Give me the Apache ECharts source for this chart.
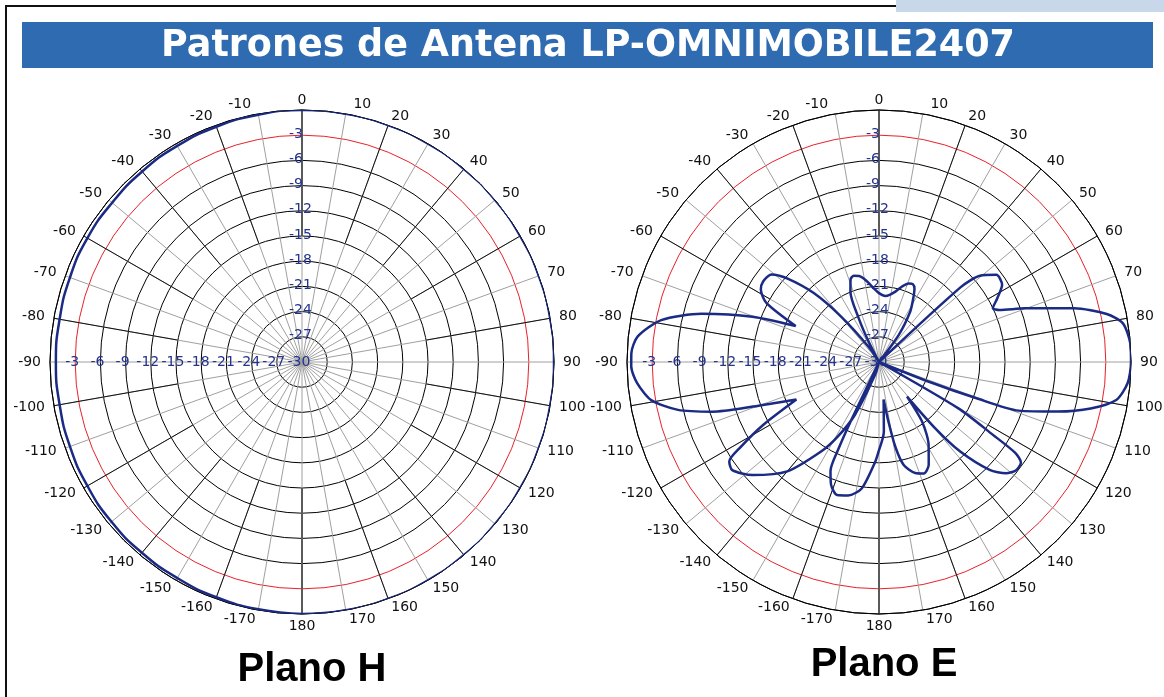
<!DOCTYPE html>
<html><head><meta charset="utf-8">
<script src="https://cdn.jsdelivr.net/npm/echarts@6/dist/echarts.min.js"></script>
<style>html,body{margin:0;padding:0;background:#fff}#c{width:1164px;height:697px}</style>
</head><body><div id="c"></div>
<script>
// ---------- data ----------
const titleText = 'Patrones de Antena LP-OMNIMOBILE2407';
const planeNames = ['Plano H', 'Plano E'];
const vLabelValues = [-3, -6, -9, -12, -15, -18, -21, -24, -27];
const hLabelValues = [-3, -6, -9, -12, -15, -18, -21, -24, -27, -30];

// H plane (angle in degrees, gain in dB)
const hAngles = [-180, -170, -160, -150, -140, -130, -120, -110, -100, -90,
                 -80, -70, -60, -50, -40, -30, -20, -10, 0,
                 10, 20, 30, 40, 50, 60, 70, 80, 90,
                 100, 110, 120, 130, 140, 150, 160, 170, 180];
const hGain = [0, -0.1, -0.2, -0.3, -0.35, -0.4, -0.5, -0.6, -0.7, -0.7,
               -0.7, -0.6, -0.5, -0.5, -0.4, -0.3, -0.2, -0.1, 0,
               0, 0, 0, 0, 0, 0, 0, 0, 0,
               0, 0, 0, 0, 0, 0, 0, 0, 0];

// E plane (angle in degrees, gain in dB), in drawing order
const eAngles = [-180, -177.8, -172.2, -167, -162.5, -158.7, -156, -155, -154.5, -156,
                 -163, -155.5, -151, -147.1, -140, -131.8, -126.4, -123.6, -121.7, -118.5,
                 -114.4, -109.5, -106.6, -103.4, -99.5, -95, -91, -88, -84, -79.1,
                 -74.8, -70.3, -66.7, -62.4, -58.5, -55.3, -50.8, -47.7, -43.4, -39.8,
                 -34.5, -31, -27, -24.9, -22.2, -19, -16.3, -13, -10.4, -7,
                 -4.1, 0, 5.4, 9, 13.1, 17, 20.7, 23.5, 25.8, 28.5,
                 31.9, 36.1, 42, 47.5, 49.5, 53.4, 57.9, 61.7, 64.7, 66.6,
                 69.8, 74.6, 78.1, 81, 85.8, 90, 94.9, 99.1, 102.4, 105.5,
                 109.2, 110.4, 111.6, 115, 120.3, 122.6, 123.7, 125.3, 128.3, 131.2,
                 134.3, 137.8, 139.7, 141, 144.2, 149.1, 154.2, 158.1, 161.9, 166.5,
                 169, 171, 173, 176, 180];
const eGain = [-19.5, -18.1, -14.8, -13.7, -13.4, -14.3, -15.8, -18.5, -22, -30,
               -28.4, -23.1, -19.8, -17.3, -13.0, -9.8, -8.3, -8.6, -10.5, -14.3,
               -19.2, -14.1, -9.3, -5.4, -2.5, -1.1, -0.5, -0.5, -1.1, -3.6,
               -8.1, -14.0, -19.2, -14.9, -13.5, -13.2, -13.5, -15.2, -18.7, -23.0,
               -27.8, -30, -27.3, -24.3, -21.0, -19.6, -19.3, -19.5, -19.9, -20.6,
               -21.2, -21.8, -22.1, -21.9, -21.4, -20.6, -20.0, -19.9, -20.3, -21.5,
               -23.0, -26.0, -30, -16.8, -14.2, -12.6, -12.7, -14.0, -15.0, -14.4,
               -11.5, -5.9, -2.3, -0.6, 0, 0, -0.3, -1.4, -4.2, -7.9,
               -12.4, -17.6, -23.6, -30, -19.0, -13.9, -10.5, -9.3, -9.2, -9.9,
               -11.6, -15.6, -19.6, -24.7, -21.2, -18.5, -16.4, -15.7, -16.1, -17.4,
               -19.6, -22.8, -25.5, -21.7, -19.5];

// ---------- chart ----------
const chart = echarts.init(document.getElementById('c'), null, {renderer: 'canvas'});
const FONT = 'DejaVu Sans';
const centers = [[302, 362], [879, 362]];
const R = 252;
const NAVY = '#1b2a84';
const LABEL_BLUE = '#24338c';
const ringColors = ['#000', '#000', '#000', '#000', '#000', '#000', '#000', '#000', '#000', '#e8212b', '#000'];
const toAxisAngle = a => (a + 360) % 360;
const angleLabelText = v => String(v > 180 ? v - 360 : v);
const baseLbl = {fontSize: 14, fontFamily: FONT, color: '#111', lineHeight: 1};

const polar = [], angleAxis = [], radiusAxis = [], series = [];
centers.forEach((c, k) => {
  const base = 3 * k;
  // main grid
  polar.push({center: c, radius: R});
  angleAxis.push({
    polarIndex: base, type: 'value', min: 0, max: 360, interval: 10, startAngle: 90, clockwise: true,
    axisLine: {show: true, lineStyle: {color: '#000', width: 1}},
    axisTick: {show: false},
    axisLabel: {show: true, margin: 9, color: '#111', fontSize: 14, fontFamily: FONT, lineHeight: 1,
      rich: {
        l: Object.assign({padding: [0, 34, 0, 0]}, baseLbl),
        r: Object.assign({padding: [0, 0, 0, 30]}, baseLbl),
        b: Object.assign({padding: [6, 0, 0, 0]}, baseLbl)
      },
      formatter: v => {
        if (v >= 360) return '';
        const t = angleLabelText(v);
        if (v === 350 || v === 190) return '{l|' + t + '}';
        if (v === 10 || v === 170) return '{r|' + t + '}';
        if (v === 180) return '{b|' + t + '}';
        return t;
      }},
    splitLine: {show: true, lineStyle: {color: '#a0a0a0', width: 1}}
  });
  radiusAxis.push({
    polarIndex: base, type: 'value', min: -30, max: 0, interval: 3,
    axisLine: {show: false}, axisTick: {show: false}, axisLabel: {show: false},
    splitLine: {show: true, lineStyle: {color: ringColors, width: 1}}
  });
  // black spokes on outer half
  polar.push({center: c, radius: [R / 2, R]});
  angleAxis.push({
    polarIndex: base + 1, type: 'value', min: 0, max: 360, interval: 20, startAngle: 90, clockwise: true,
    axisLine: {show: false}, axisTick: {show: false}, axisLabel: {show: false},
    splitLine: {show: true, lineStyle: {color: '#111', width: 1}}
  });
  radiusAxis.push({polarIndex: base + 1, type: 'value', min: -15, max: 0, show: false});
  // 0 / 180 spokes
  polar.push({center: c, radius: [R / 2, R]});
  angleAxis.push({
    polarIndex: base + 2, type: 'value', min: 0, max: 360, interval: 180, startAngle: 90, clockwise: true,
    axisLine: {show: false}, axisTick: {show: false}, axisLabel: {show: false},
    splitLine: {show: true, lineStyle: {color: '#5a5a5a', width: 2}}
  });
  radiusAxis.push({polarIndex: base + 2, type: 'value', min: -15, max: 0, show: false});

  const labelStyle = {color: LABEL_BLUE, fontSize: 14, fontFamily: FONT,
    textBorderWidth: 0, textBorderColor: 'transparent', opacity: 1};
  // radial labels (vertical, along 0 deg)
  series.push({
    type: 'scatter', coordinateSystem: 'polar', polarIndex: base, silent: true, symbolSize: 1,
    itemStyle: {color: 'rgba(0,0,0,0)'}, z: 6,
    data: vLabelValues.map(v => [v, 0]),
    label: Object.assign({show: true, position: 'inside', align: 'left', verticalAlign: 'middle', offset: [-13, -1],
      formatter: p => String(p.value[0])}, labelStyle)
  });
  // radial labels (horizontal, along -90 deg)
  series.push({
    type: 'scatter', coordinateSystem: 'polar', polarIndex: base, silent: true, symbolSize: 1,
    itemStyle: {color: 'rgba(0,0,0,0)'}, z: 6,
    data: hLabelValues.map(v => [v, 270]),
    label: Object.assign({show: true, position: 'inside', align: 'center', verticalAlign: 'middle', offset: [-3, 0],
      formatter: p => String(p.value[0])}, labelStyle)
  });
});

series.push({
  name: planeNames[0], type: 'line', coordinateSystem: 'polar', polarIndex: 0,
  data: hGain.map((g, i) => [g, toAxisAngle(hAngles[i])]),
  showSymbol: false, smooth: true, clip: false, z: 8,
  lineStyle: {color: NAVY, width: 2.5}
});
series.push({
  name: planeNames[1], type: 'line', coordinateSystem: 'polar', polarIndex: 3,
  data: eGain.map((g, i) => [g, toAxisAngle(eAngles[i])]),
  showSymbol: false, smooth: 0.25, clip: false, z: 8,
  lineStyle: {color: NAVY, width: 2.5}
});

chart.setOption({
  animation: false,
  backgroundColor: '#fff',
  polar, angleAxis, radiusAxis, series,
  graphic: [
    {type: 'rect', shape: {x: 896, y: 0, width: 268, height: 12}, style: {fill: '#c9d7ea'}, z: 1},
    {type: 'line', shape: {x1: 5, y1: 6, x2: 896, y2: 6}, style: {stroke: '#111', lineWidth: 2}},
    {type: 'line', shape: {x1: 6, y1: 5, x2: 6, y2: 697}, style: {stroke: '#111', lineWidth: 2}},
    {type: 'rect', shape: {x: 22, y: 22, width: 1131, height: 46}, style: {fill: '#2f6bb0'}},
    {type: 'text', x: 588, y: 47, style: {text: titleText, fill: '#fff', font: 'bold 36.5px "DejaVu Sans"', textAlign: 'center', textVerticalAlign: 'middle'}},
    {type: 'text', x: 312, y: 670, style: {text: planeNames[0], fill: '#000', font: 'bold 40px "Liberation Sans"', textAlign: 'center', textVerticalAlign: 'middle'}},
    {type: 'text', x: 884, y: 665, style: {text: planeNames[1], fill: '#000', font: 'bold 40px "Liberation Sans"', textAlign: 'center', textVerticalAlign: 'middle'}}
  ]
});
</script>
</body></html>
